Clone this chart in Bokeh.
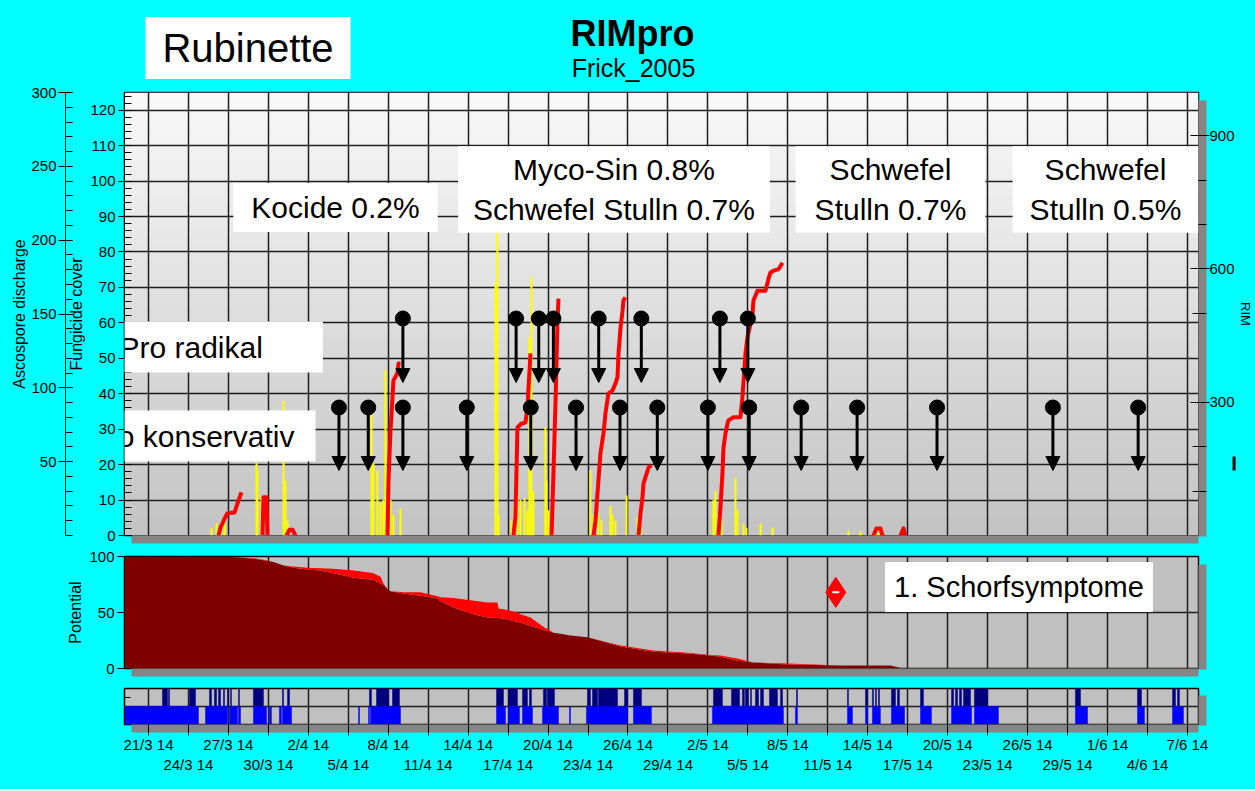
import numpy as np
from bokeh.plotting import figure
from bokeh.models import (Range1d, LinearAxis, FixedTicker, Label, Arrow,
                          NormalHead, ColumnDataSource, CustomJSTickFormatter)
from bokeh.layouts import column
from bokeh.embed import file_html
from bokeh.resources import INLINE

# ---------------------------------------------------------------- data
# x values are days after 21 March 2014 (00:00)
tick_days = list(range(0, 79, 3))
tick_labels = ["21/3 14", "24/3 14", "27/3 14", "30/3 14", "2/4 14", "5/4 14",
               "8/4 14", "11/4 14", "14/4 14", "17/4 14", "20/4 14", "23/4 14",
               "26/4 14", "29/4 14", "2/5 14", "5/5 14", "8/5 14", "11/5 14",
               "14/5 14", "17/5 14", "20/5 14", "23/5 14", "26/5 14", "29/5 14",
               "1/6 14", "4/6 14", "7/6 14"]

# ascospore discharge (yellow spikes)
asco_day = [4.73, 5.11, 5.48, 5.71, 8.11, 8.18, 8.48, 10.14, 10.29, 10.44,
            16.74, 16.89, 17.19, 17.42, 17.64, 17.79, 18.17, 18.39, 18.92,
            26.05, 26.20, 26.28, 27.25, 27.48, 27.70, 27.93, 28.23, 28.45,
            28.60, 28.75, 28.90, 29.80, 29.88, 30.03, 33.18, 33.41, 33.78,
            34.01, 34.68, 34.83, 35.06, 35.89, 36.71, 36.94, 42.42, 42.57,
            42.79, 43.02, 44.07, 44.22, 44.67, 44.89, 45.95, 46.85, 52.55,
            53.45, 54.58, 54.80]
asco_value = [5, 8, 10, 11, 49, 44, 26, 91, 37, 10,
              91, 49, 44, 22, 24, 112, 24, 14, 18,
              171, 208, 14, 10, 20, 49, 24, 25, 17,
              134, 175, 30, 73, 37, 17, 44, 14, 15,
              10, 20, 14, 10, 27, 12, 7, 24, 30,
              15, 10, 39, 17, 8, 5, 8, 5, 3,
              3, 5, 5]

# RIM infection curves (red)
rim_days = [
    [5.26, 5.41, 5.71, 5.93, 6.46, 6.68, 6.98],
    [8.56, 8.63, 8.86, 8.93],
    [10.36, 10.59, 10.81, 11.04],
    [17.94, 18.02, 18.17, 18.32, 18.39, 18.69, 18.77, 18.92],
    [27.40, 27.55, 27.70, 28.00, 28.30, 28.45, 28.68],
    [30.26, 30.41, 30.56, 30.71, 30.78],
    [33.41, 33.56, 33.71, 33.78, 33.93, 34.16, 34.31, 34.53, 34.83, 35.06,
     35.21, 35.29, 35.44, 35.59, 35.66, 35.81],
    [36.79, 36.94, 37.09, 37.16, 37.31, 37.54, 37.76],
    [42.79, 42.94, 43.09, 43.17, 43.32, 43.47, 43.54, 43.92, 44.44, 44.59,
     44.82, 44.97, 45.20, 45.35, 45.42, 45.72, 46.32, 46.55, 46.70, 46.92,
     47.30, 47.60],
    [54.43, 54.65, 54.95, 55.11],
    [56.46, 56.68, 56.83],
]
rim_values = [
    [0, 18, 38, 50, 52, 72, 97],
    [0, 86, 86, 0],
    [0, 13, 13, 0],
    [0, 124, 236, 311, 349, 365, 387, 387],
    [0, 41, 243, 252, 254, 288, 410],
    [0, 146, 304, 484, 533],
    [0, 34, 95, 124, 185, 230, 275, 320, 326, 342, 356, 410, 468, 506, 529, 536],
    [0, 50, 86, 117, 131, 153, 158],
    [0, 63, 140, 198, 230, 252, 259, 266, 266, 311, 410, 446, 477, 500, 529,
     551, 551, 578, 592, 596, 599, 614],
    [0, 16, 16, 0],
    [0, 16, 0],
]

# spray dates (arrows)
spray_radikal_days = [19.1, 27.6, 29.3, 30.4, 33.8, 37.0, 42.9, 45.0]
spray_konservativ_days = [14.3, 16.5, 19.1, 23.9, 28.7, 32.1, 35.4, 38.2, 42.0,
                          45.1, 49.0, 53.2, 59.2, 67.9, 74.3, 81.5]

# infection potential panel
pot_days = [-1.80, 5.93, 7.88, 8.41, 8.93, 9.38, 10.14, 10.89, 11.94, 12.91,
            13.89, 15.39, 16.67, 16.89, 17.42, 17.64, 17.94, 18.17, 19.14,
            20.42, 21.70, 21.92, 22.90, 24.17, 25.45, 26.20, 26.28, 26.65,
            27.70, 27.93, 28.68, 29.80, 29.95, 30.41, 30.93, 31.68, 32.96,
            35.44, 37.91, 40.47, 42.19, 42.94, 44.22, 45.42, 47.97, 51.95,
            55.71, 56.46, 78.83]
pot_upper = [100, 100, 98.5, 97.5, 96.4, 95, 92, 91, 90, 89.5, 89, 87.5, 85.5,
             85, 82, 76, 71, 69, 68, 68, 64.5, 63.7, 63, 61, 59, 59, 53.6, 53,
             50, 48.5, 45.5, 36, 35.5, 32, 31, 29.5, 28, 20.5, 16, 14, 12,
             11.6, 9, 5.4, 4.5, 2.7, 2.7, 0.5, 0.5]
pot_lower = [100, 100, 98, 97, 96, 95, 92, 90, 88.5, 87.5, 85, 81, 79.5, 79,
             76, 74.5, 71, 69, 67, 65, 62.5, 60, 54.5, 49, 45.5, 45, 44.8,
             44.6, 41.5, 41, 38, 34, 33.5, 32, 31, 29.5, 28, 19.6, 15, 13.4,
             11.6, 10.5, 7, 5.4, 3.6, 2.7, 2.7, 0.5, 0.5]
symptom_day = [51.6]
symptom_level = [68]

# wetness / rain periods (start, end)
wet_top = [(1.05, 1.43), (1.50, 1.58), (3.08, 3.53), (4.58, 4.73), (4.95, 5.11),
           (5.26, 5.41), (5.63, 5.71), (5.93, 6.01), (6.16, 6.23), (6.76, 6.83),
           (7.88, 8.63), (10.06, 10.14), (10.44, 10.59), (16.59, 16.74),
           (17.12, 18.02), (18.32, 18.84), (26.13, 26.65), (27.03, 27.70),
           (28.08, 28.45), (28.60, 28.75), (29.65, 29.88), (29.95, 30.48),
           (32.96, 33.18), (33.33, 33.71), (33.78, 35.21), (35.74, 35.96),
           (36.41, 37.01), (42.42, 43.09), (43.77, 44.37), (44.59, 44.74),
           (44.82, 45.05), (45.20, 45.27), (45.57, 45.80), (45.95, 46.17),
           (46.62, 47.22), (47.45, 47.60), (48.65, 48.72), (52.48, 52.55),
           (53.83, 53.98), (54.35, 54.43), (54.58, 54.65), (54.80, 54.88),
           (55.78, 56.08), (56.23, 56.38), (57.96, 58.18), (60.29, 60.44),
           (60.59, 60.74), (60.89, 61.04), (61.19, 61.71), (62.01, 62.99),
           (69.59, 69.97), (74.25, 74.55), (76.88, 77.10), (77.25, 77.40)]
wet_bottom = [(-1.80, 3.75), (4.28, 5.93), (6.08, 6.68), (6.76, 6.91),
              (7.88, 8.86), (9.08, 9.23), (9.83, 9.98), (10.06, 10.74),
              (15.77, 15.84), (16.52, 16.59), (16.67, 18.92), (26.13, 26.80),
              (27.03, 27.85), (28.08, 28.83), (29.58, 30.78), (31.61, 31.68),
              (32.88, 35.96), (36.41, 37.76), (42.34, 47.67), (48.57, 48.72),
              (52.48, 52.85), (53.83, 53.98), (54.35, 54.95), (55.78, 56.76),
              (57.96, 58.78), (60.29, 61.79), (62.01, 63.81), (69.59, 70.50),
              (74.25, 74.77), (76.88, 77.70)]

# ---------------------------------------------------------------- layout
FONT = "Liberation Sans"
CYAN = "#00ffff"
SHADOW = "#858585"
GRID = "#1e1e1e"
X_START, X_END = -1.8, 78.83
W = 1255
BL, BR = 124, 57
PXD = (W - BL - BR) / (X_END - X_START)

# page-y where each figure starts
TOP_Y0, MID_Y0, BOT_Y0 = 84, 545, 678


def tx(X):
    return X_START + (X - 124.0) / PXD


def ty1(Y):
    return 125.0 * (535.0 - Y) / 443.0


def ty2(Y):
    return 100.0 * (668.0 - Y) / 112.0


def ty3(Y):
    return 2.0 * (724.0 - Y) / 36.0


def style_axis(ax, lab_size="16px"):
    ax.major_label_text_font = FONT
    ax.major_label_text_font_size = "15px"
    ax.major_label_text_color = "black"
    ax.axis_label_text_font = FONT
    ax.axis_label_text_font_size = lab_size
    ax.axis_label_text_font_style = "normal"
    ax.axis_label_text_color = "black"
    ax.axis_line_color = "black"
    ax.major_tick_line_color = "black"
    ax.minor_tick_line_color = "black"


def text_label(fig, x, y, text, size, bold=False, bg=None, pad=None):
    lab = Label(x=x, y=y, text=text, text_font=FONT, text_font_size=f"{size}px",
                text_font_style="bold" if bold else "normal",
                text_align="center", text_baseline="middle", text_color="black")
    if bg is not None:
        lab.background_fill_color = bg
        lab.padding = pad
    fig.add_layout(lab)


def band_axis(ticks):
    """an unlabeled axis whose dense outward ticks form the grey drop shadow"""
    return LinearAxis(ticker=FixedTicker(ticks=list(ticks)),
                      formatter=CustomJSTickFormatter(code="return ''"),
                      axis_line_color=None, major_tick_out=8, major_tick_in=0,
                      minor_tick_out=0, minor_tick_in=0,
                      major_tick_line_color=SHADOW, major_tick_line_width=2,
                      major_label_text_font_size="1px", major_label_standoff=0)


def shadows(fig, y_top, y_step):
    fig.add_layout(band_axis(np.arange(0.0, y_top, y_step)), "right")
    fig.add_layout(band_axis(np.arange(tx(132), X_END, 0.06)), "below")


def base_fig(height, y_range, top, bottom, bg):
    f = figure(width=W, height=height, x_range=x_range, y_range=y_range,
               output_backend="svg", toolbar_location=None, title=None,
               x_axis_location=None, y_axis_location=None,
               min_border_left=BL, min_border_right=BR,
               min_border_top=top, min_border_bottom=bottom,
               border_fill_alpha=0, background_fill_color=bg,
               outline_line_color="black", outline_line_width=1.5)
    f.xgrid.ticker = FixedTicker(ticks=tick_days)
    f.xgrid.grid_line_color = GRID
    f.xgrid.grid_line_width = 1.5
    f.ygrid.grid_line_color = GRID
    f.ygrid.grid_line_width = 1.5
    return f


x_range = Range1d(X_START, X_END)

# ================================================================ header
ph = figure(width=W, height=TOP_Y0, x_range=Range1d(124, 1198), y_range=Range1d(TOP_Y0, 0),
            output_backend="svg", toolbar_location=None, title=None,
            x_axis_location=None, y_axis_location=None, min_border=0,
            min_border_left=BL, min_border_right=BR,
            border_fill_alpha=0, background_fill_alpha=0, outline_line_color=None)
ph.grid.visible = False
text_label(ph, 632, 33, "RIMpro", 36, bold=True)
text_label(ph, 633, 67, "Frick_2005", 25)
text_label(ph, 247.5, 47.5, "Rubinette", 40, bg="white", pad=(17, 9))

# ================================================================ top panel
p1 = base_fig(545 - TOP_Y0, Range1d(0, 125), 92 - TOP_Y0, 10, "#dcdcdc")
p1.extra_y_ranges = {"asco": Range1d(0, 300), "rim": Range1d(0, 997)}
p1.ygrid.ticker = FixedTicker(ticks=list(range(0, 121, 10)))

# vertical gradient background
n = 64
grad = np.empty((n, 1), dtype=np.uint32)
gv = grad.view(dtype=np.uint8).reshape((n, 1, 4))
for i in range(n):
    t = i / (n - 1)
    gv[i, 0, 0] = int(196 + (250 - 196) * t)
    gv[i, 0, 1] = int(196 + (249 - 196) * t)
    gv[i, 0, 2] = int(196 + (250 - 196) * t)
    gv[i, 0, 3] = 255
p1.image_rgba(image=[grad], x=X_START, y=0, dw=X_END - X_START, dh=125, level="image")

ax_in = LinearAxis(ticker=FixedTicker(ticks=list(range(0, 121, 10)),
                                      minor_ticks=list(range(0, 125, 2))),
                   axis_label="Fungicide cover")
style_axis(ax_in)
ax_in.major_tick_out = 6
ax_in.major_tick_in = 7
ax_in.minor_tick_in = 7
ax_in.minor_tick_out = 0
ax_in.major_label_standoff = 3
ax_in.axis_label_standoff = 2
p1.add_layout(ax_in, "left")

p1.add_layout(LinearAxis(ticker=FixedTicker(ticks=[]), axis_line_color=None,
                         major_tick_out=12, major_tick_in=0, minor_tick_out=0,
                         minor_tick_in=0, major_label_standoff=0), "left")

ax_out = LinearAxis(y_range_name="asco",
                    ticker=FixedTicker(ticks=list(range(50, 301, 50)),
                                       minor_ticks=list(range(0, 301, 10))),
                    axis_label="Ascospore discharge")
style_axis(ax_out)
ax_out.major_tick_out = 7
ax_out.major_tick_in = 7
ax_out.minor_tick_in = 7
ax_out.minor_tick_out = 0
ax_out.major_label_standoff = 2
ax_out.axis_label_standoff = 0
p1.add_layout(ax_out, "left")

shadows(p1, ty1(100), 0.25)

ax_rim = LinearAxis(y_range_name="rim",
                    ticker=FixedTicker(ticks=[300, 600, 900],
                                       minor_ticks=[100, 200, 500, 700, 800]),
                    axis_label="RIM")
style_axis(ax_rim, "13px")
ax_rim.axis_line_color = None
ax_rim.major_tick_out = 3
ax_rim.major_tick_in = 16
ax_rim.minor_tick_in = 14
ax_rim.minor_tick_out = 0
ax_rim.major_label_standoff = 0
ax_rim.axis_label_standoff = 0
p1.add_layout(ax_rim, "right")

# ascospores
p1.vbar(x=asco_day, top=asco_value, bottom=0, width=0.11, y_range_name="asco",
        fill_color="#ffff00", line_color="#ffff00", line_width=0.5)
# RIM curves
p1.multi_line(xs=rim_days, ys=rim_values, y_range_name="rim",
              line_color="#ff0000", line_width=4, line_join="round")

# spray arrows
ROW_RADIKAL = (ty1(318), ty1(382))
ROW_KONS = (ty1(407), ty1(470))
for days, (ytop, ybot) in ((spray_radikal_days, ROW_RADIKAL),
                           (spray_konservativ_days, ROW_KONS)):
    src = ColumnDataSource(dict(x=days, y0=[ytop] * len(days), y1=[ybot] * len(days)))
    p1.add_layout(Arrow(x_start="x", y_start="y0", x_end="x", y_end="y1", source=src,
                        line_color="black", line_width=3,
                        end=NormalHead(size=14, fill_color="black", line_color="black")))
    p1.scatter(x="x", y="y0", source=src, marker="circle", size=15,
               fill_color="black", line_color="black")

# overlay labels
text_label(p1, tx(335), ty1(207), "Kocide 0.2%", 30, bg="white", pad=(18, 8))
text_label(p1, tx(613.5), ty1(189), "Myco-Sin 0.8%\nSchwefel Stulln 0.7%", 30,
           bg="white", pad=(15, 7))
text_label(p1, tx(890), ty1(189), "Schwefel\nStulln 0.7%", 30, bg="white", pad=(19, 7))
text_label(p1, tx(1105), ty1(189), "Schwefel\nStulln 0.5%", 30, bg="white", pad=(17, 7))
text_label(p1, tx(164), ty1(346.5), "RimPro radikal", 30, bg="white", pad=(60, 9))
text_label(p1, tx(164), ty1(435.5), "RimPro konservativ", 30, bg="white", pad=(21, 9))

# ================================================================ potential panel
p2 = base_fig(BOT_Y0 - MID_Y0, Range1d(0, 100), 556 - MID_Y0, BOT_Y0 - 668, "#c0c0c0")
p2.ygrid.ticker = FixedTicker(ticks=[50])
ax_pot = LinearAxis(ticker=FixedTicker(ticks=[0, 50, 100]), axis_label="Potential")
style_axis(ax_pot)
ax_pot.major_tick_out = 7
ax_pot.major_tick_in = 0
ax_pot.major_label_standoff = 3
ax_pot.axis_label_standoff = 2
p2.add_layout(ax_pot, "left")
shadows(p2, ty2(564), 0.75)

p2.varea(x=pot_days, y1=0, y2=pot_lower, fill_color="#800000")
p2.varea(x=pot_days, y1=pot_lower, y2=pot_upper, fill_color="#ff0000")
p2.scatter(x=symptom_day, y=symptom_level, marker="diamond", size=30,
           fill_color="#ff0000", line_color="#ff0000")
p2.scatter(x=symptom_day, y=symptom_level, marker="dash", size=7,
           line_color="white", line_width=2)
text_label(p2, tx(1018.5), ty2(586.5), "1. Schorfsymptome", 29, bg="white", pad=(9, 9))

# ================================================================ wetness panel
BOT_H = 789 - BOT_Y0
p3 = base_fig(BOT_H, Range1d(0, 2), 688 - BOT_Y0, BOT_H - (724 - BOT_Y0), "#c0c0c0")
p3.ygrid.ticker = FixedTicker(ticks=[1])
ax_w = LinearAxis(ticker=FixedTicker(ticks=[1.5]), major_label_overrides={1.5: ""})
style_axis(ax_w)
ax_w.major_tick_in = 6
ax_w.major_tick_out = 0
ax_w.major_label_standoff = 0
p3.add_layout(ax_w, "left")
shadows(p3, ty3(696), 0.05)

p3.quad(left=[s for s, e in wet_top], right=[e for s, e in wet_top],
        bottom=1, top=2, fill_color="#000080", line_color="#000080", line_width=0.5)
p3.quad(left=[s for s, e in wet_bottom], right=[e for s, e in wet_bottom],
        bottom=0, top=1, fill_color="#0000ff", line_color="#0000ff", line_width=0.5)

ax_x1 = LinearAxis(ticker=FixedTicker(ticks=tick_days),
                   major_label_overrides={d: (lab if i % 2 == 0 else "")
                                          for i, (d, lab) in enumerate(zip(tick_days, tick_labels))})
style_axis(ax_x1)
ax_x1.axis_line_color = None
ax_x1.major_tick_out = 3
ax_x1.major_tick_in = 8
ax_x1.major_label_standoff = 0
p3.add_layout(ax_x1, "below")

odd = [(d, lab) for i, (d, lab) in enumerate(zip(tick_days, tick_labels)) if i % 2 == 1]
ax_x2 = LinearAxis(ticker=FixedTicker(ticks=[d for d, _ in odd]),
                   major_label_overrides={d: lab for d, lab in odd})
style_axis(ax_x2)
ax_x2.axis_line_color = None
ax_x2.major_tick_line_color = None
ax_x2.major_tick_out = 0
ax_x2.major_tick_in = 0
ax_x2.major_label_standoff = 0
p3.add_layout(ax_x2, "below")

layout = column(ph, p1, p2, p3, spacing=0, styles={"background-color": CYAN})
open("out.html", "w").write(file_html(layout, INLINE))
